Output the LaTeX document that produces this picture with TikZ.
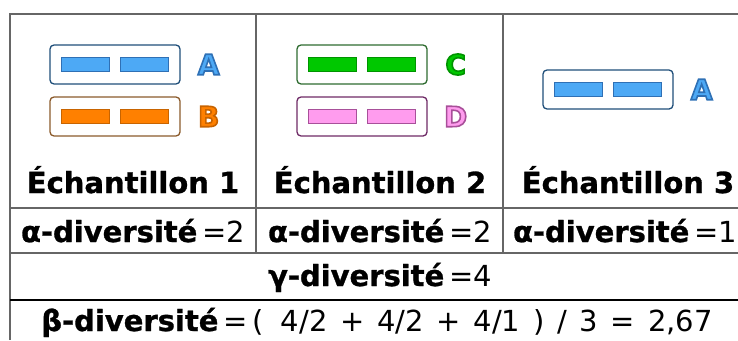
\documentclass[tikz,border=0pt]{standalone}
\usepackage{fontspec}
\setmainfont{DejaVu Sans}[BoldFeatures={FakeBold=1}]
\newfontfamily\letterfont{DejaVu Sans Bold}
\usetikzlibrary{positioning}
\newcommand\outlined[2]{\special{pdf:literal direct q 2 Tr 1.6 w #1 RG}#2\special{pdf:literal direct Q}}
\definecolor{Afill}{HTML}{4DA9F5}
\definecolor{Aline}{HTML}{2F70B5}
\definecolor{Abox}{HTML}{1F4E79}
\definecolor{Bfill}{HTML}{FF8000}
\definecolor{Bline}{HTML}{C86400}
\definecolor{Bbox}{HTML}{8B5A2B}
\definecolor{Cfill}{HTML}{00C800}
\definecolor{Cline}{HTML}{009400}
\definecolor{Cbox}{HTML}{2E6B30}
\definecolor{Dfill}{HTML}{FF9CEE}
\definecolor{Dline}{HTML}{A8509A}
\definecolor{Dbox}{HTML}{6E2A66}
\begin{document}
\begin{tikzpicture}[x=1pt, y=-1pt,
    grid/.style={draw=black!60, line width=1.2pt},
    spbox/.style={draw, rounded corners=4pt, line width=1.3pt, minimum width=130pt, minimum height=39pt, inner sep=0},
    bar/.style={draw, line width=0.6pt, minimum width=48pt, minimum height=14pt, inner sep=0},
    letter/.style={inner sep=0, font=\fontsize{28}{30}\letterfont},
    cell/.style={anchor=base, inner sep=0, font=\fontsize{29}{34}\selectfont}]
    \useasboundingbox (0,0) rectangle (738,340);
    % species
    \foreach \x/\y/\s/\rgb [count=\i] in {50/45/A/0.18 0.44 0.71, 50/97/B/0.78 0.39 0, 297/45/C/0 0.58 0, 297/97/D/0.66 0.31 0.60, 543/70/A/0.18 0.44 0.71} {
        \node[spbox, draw=\s box] (sp\i) at (\x+65,\y+19.5) {};
        \node[bar, fill=\s fill, draw=\s line, left=5pt of sp\i.center] (bl\i) {};
        \node[bar, fill=\s fill, draw=\s line, right=5pt of sp\i.center] (br\i) {};
        \node[letter] (lab\i) at ([xshift=28]sp\i.east) {\textcolor{\s fill}{\outlined{\rgb}{\s}}};
    }
    % table
    \draw[grid] (10,340) -- (10,14) -- (738,14);
    \draw[grid] (10,208) -- (738,208);
    \draw[grid] (10,253) -- (738,253);
    \draw[grid, draw=black] (10,300) -- (738,300);
    \draw[grid] (256,14) -- (256,253);
    \draw[grid] (503,14) -- (503,253);
    % texts
    \node[cell] (ech1) at (133,193) {\bfseries Échantillon 1};
    \node[cell] (ech2) at (380,193) {\bfseries Échantillon 2};
    \node[cell] (ech3) at (628,193) {\bfseries Échantillon 3};
    \node[cell] (alpha1) at (133,242) {\textbf{α-diversité}\,=2};
    \node[cell] (alpha2) at (380,242) {\textbf{α-diversité}\,=2};
    \node[cell] (alpha3) at (625,242) {\textbf{α-diversité}\,=1};
    \node[cell] (gamma) at (380,286) {\textbf{γ-diversité}\,=4};
    \node[cell] (beta) at (377,331) {\spaceskip=0.44em \textbf{β-diversité}\,=\,(\hspace{0.15em} 4/2 + 4/2 + 4/1 ) / 3 = 2,67};
\end{tikzpicture}
\end{document}
